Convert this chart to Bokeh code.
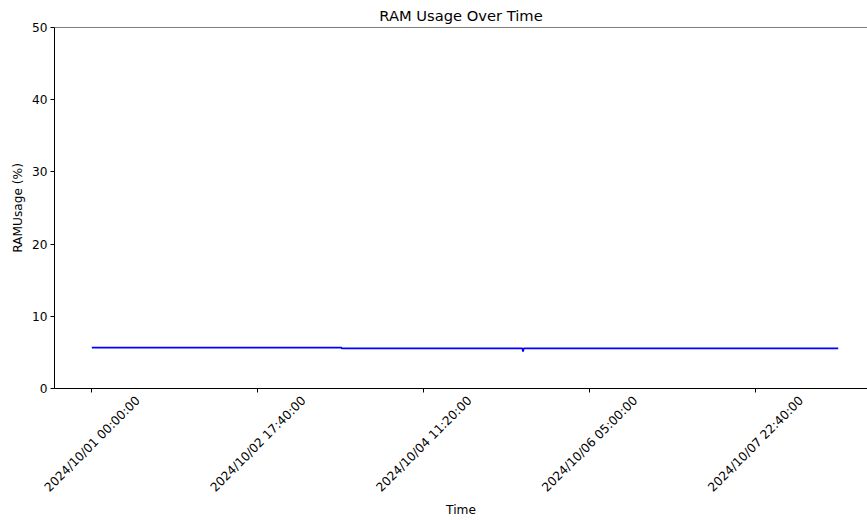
from math import pi

import pandas as pd
from bokeh.embed import file_html
from bokeh.models import (DatetimeAxis, DatetimeTickFormatter, FixedTicker,
                          Range1d, Span)
from bokeh.plotting import figure
from bokeh.resources import INLINE

# RAM usage samples (breakpoints of an almost flat series)
times = [
    "2024-10-01 00:00", "2024-10-03 14:40", "2024-10-03 14:50",
    "2024-10-05 12:10", "2024-10-05 12:20", "2024-10-05 12:30",
    "2024-10-08 19:30",
]
ram_usage = [5.65, 5.65, 5.55, 5.55, 5.10, 5.55, 5.55]

tick_labels = [
    "2024/10/01 00:00:00", "2024/10/02 17:40:00", "2024/10/04 11:20:00",
    "2024/10/06 05:00:00", "2024/10/07 22:40:00",
]
y_ticks = [0, 10, 20, 30, 40, 50]

FONT = "DejaVu Sans"
TICK_FMT = "%Y/%m/%d %H:%M:%S"


def to_ms(ts):
    return int(pd.Timestamp(ts).value // 10**6)


t_ms = [to_ms(t) for t in times]
tick_ms = [to_ms(pd.to_datetime(s, format=TICK_FMT)) for s in tick_labels]

# 5% padding on both sides of the data span; the right side is cut by the page width
FRAME_W = 813
span = t_ms[-1] - t_ms[0]
x_start = t_ms[0] - 0.05 * span
x_end = x_start + 1.1 * span * FRAME_W / 821

p = figure(
    width=867, height=520,
    x_axis_type="datetime",
    x_range=Range1d(x_start, x_end), y_range=Range1d(0, 50),
    output_backend="svg", toolbar_location=None,
    title="RAM Usage Over Time",
    min_border_left=54, min_border_right=0,
    min_border_top=27, min_border_bottom=132,
)

p.background_fill_color = "white"
p.border_fill_color = "white"
p.outline_line_color = None
p.xgrid.visible = False
p.ygrid.visible = False

p.title.align = "center"
p.title.vertical_align = "middle"
p.title.text_font = FONT
p.title.text_font_size = "14.7px"
p.title.text_font_style = "normal"
p.title.text_color = "black"
p.title.standoff = 5

p.line(t_ms, ram_usage, line_color="blue", line_width=1.8)

# top spine
p.add_layout(Span(location=50, dimension="width", line_color="black", line_width=1))

# y axis
ya = p.yaxis[0]
ya.ticker = FixedTicker(ticks=y_ticks)
ya.axis_label = "RAMUsage (%)"
ya.axis_label_text_font = FONT
ya.axis_label_text_font_size = "12.2px"
ya.axis_label_text_font_style = "normal"
ya.axis_label_text_color = "black"
ya.axis_label_standoff = 4
ya.major_label_text_font = FONT
ya.major_label_text_font_size = "12.2px"
ya.major_label_text_color = "black"
ya.major_label_standoff = 3
ya.major_tick_out = 4
ya.major_tick_in = 0
ya.minor_tick_line_color = None
ya.axis_line_color = "black"
ya.major_tick_line_color = "black"

# x axis: line and tick marks only
xa = p.xaxis[0]
xa.ticker = FixedTicker(ticks=tick_ms)
xa.major_label_overrides = {m: "" for m in tick_ms}
xa.major_label_text_font_size = "0px"
xa.major_label_standoff = 0
xa.major_tick_out = 4
xa.major_tick_in = 0
xa.minor_tick_line_color = None
xa.axis_line_color = "black"
xa.major_tick_line_color = "black"

# second time axis carrying the rotated tick labels, centred under each tick
label_shift_px = 46
ms_per_px = (x_end - x_start) / FRAME_W
shift = label_shift_px * ms_per_px
p.extra_x_ranges = {"labels": Range1d(x_start - shift, x_end - shift)}

fmt = DatetimeTickFormatter(
    microseconds=TICK_FMT, milliseconds=TICK_FMT, seconds=TICK_FMT,
    minsec=TICK_FMT, minutes=TICK_FMT, hourmin=TICK_FMT, hours=TICK_FMT,
    days=TICK_FMT, months=TICK_FMT, years=TICK_FMT,
)
la = DatetimeAxis(x_range_name="labels", ticker=FixedTicker(ticks=tick_ms), formatter=fmt)
la.axis_line_color = None
la.major_tick_line_color = None
la.minor_tick_line_color = None
la.major_tick_out = 0
la.major_tick_in = 0
la.major_label_orientation = pi / 4
la.major_label_standoff = 6
la.major_label_text_font = FONT
la.major_label_text_font_size = "12.2px"
la.major_label_text_color = "black"
la.axis_label = "Time"
la.axis_label_text_font = FONT
la.axis_label_text_font_size = "12.2px"
la.axis_label_text_font_style = "normal"
la.axis_label_text_color = "black"
la.axis_label_standoff = 0
p.add_layout(la, "below")

open("out.html", "w").write(file_html(p, INLINE))
